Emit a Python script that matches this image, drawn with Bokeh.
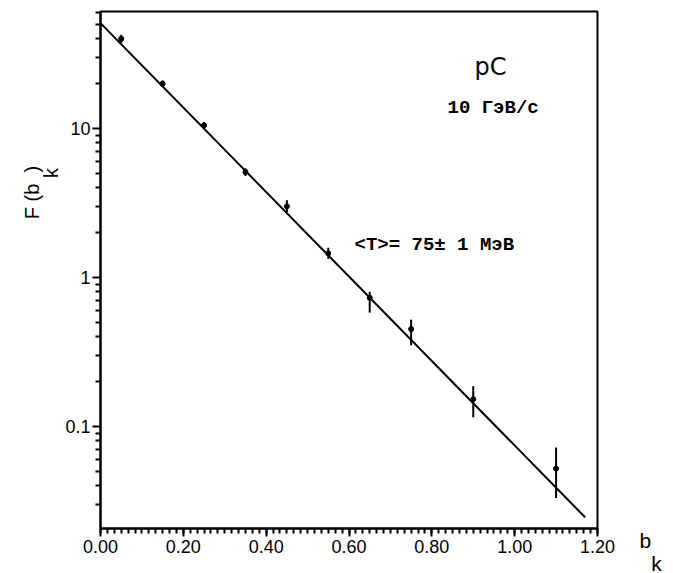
import math
from bokeh.plotting import figure
from bokeh.models import Range1d, FixedTicker, Label, ColumnDataSource
from bokeh.embed import file_html
from bokeh.resources import INLINE

# ---- data ----
b_k = [0.05, 0.15, 0.25, 0.35, 0.45, 0.55, 0.65, 0.75, 0.90, 1.10]
F = [40.0, 20.0, 10.5, 5.1, 3.0, 1.45, 0.73, 0.45, 0.152, 0.052]
F_lo = [37.5, 19.0, 10.0, 4.8, 2.75, 1.33, 0.58, 0.35, 0.115, 0.033]
F_hi = [42.5, 21.0, 11.0, 5.4, 3.3, 1.58, 0.80, 0.52, 0.186, 0.072]

fit_b = [0.0, 1.17]
fit_F = [51.0, 0.0245]

x_ticks = [0.0, 0.2, 0.4, 0.6, 0.8, 1.0, 1.2]
x_tick_labels = ["0.00", "0.20", "0.40", "0.60", "0.80", "1.00", "1.20"]
y_ticks = [0.1, 1.0, 10.0]
y_tick_labels = ["0.1", "1", "10"]

W, H = 673, 573
FL, FR, FT, FB = 100, 597, 11, 528
XMIN, XMAX = 0.0, 1.2
YMIN, YMAX = 0.0206, 61.0
NB = "\u00a0"


def X(px):
    return XMIN + (px - FL) / (FR - FL) * (XMAX - XMIN)


def Y(py):
    lo, hi = math.log10(YMIN), math.log10(YMAX)
    return 10 ** (lo + (FB - py) / (FB - FT) * (hi - lo))


p = figure(width=W, height=H, x_range=Range1d(XMIN, XMAX), y_range=Range1d(YMIN, YMAX),
           y_axis_type="log", output_backend="svg", toolbar_location=None,
           min_border_left=FL, min_border_right=W - FR, min_border_top=FT,
           min_border_bottom=H - FB)
p.background_fill_color = "white"
p.border_fill_color = "white"
p.outline_line_color = "black"
p.outline_line_width = 2
p.xgrid.visible = False
p.ygrid.visible = False

# x axis
x_minor = [i * 0.2 / 12 for i in range(0, 73)]
p.xaxis.ticker = FixedTicker(ticks=x_ticks, minor_ticks=x_minor)
p.xaxis.major_label_overrides = {t: s for t, s in zip(x_ticks, x_tick_labels)}
# y axis
y_minor = [m * 10.0 ** e for e in (-2, -1, 0, 1) for m in range(2, 10)
           if YMIN <= m * 10.0 ** e <= YMAX]
p.yaxis.ticker = FixedTicker(ticks=y_ticks, minor_ticks=y_minor)
p.yaxis.major_label_overrides = {t: s for t, s in zip(y_ticks, y_tick_labels)}

for ax in (p.xaxis[0], p.yaxis[0]):
    ax.axis_line_width = 2
    ax.axis_line_color = "black"
    ax.major_tick_line_width = 2
    ax.minor_tick_line_width = 2
    ax.major_tick_in = 0
    ax.major_tick_out = 8
    ax.minor_tick_in = 0
    ax.minor_tick_out = 5
    ax.major_label_text_font = "Liberation Sans"
    ax.major_label_text_font_size = "18px"
    ax.major_label_text_color = "black"
    ax.major_label_standoff = 3
p.yaxis.major_label_standoff = 2

# fit line
p.line(fit_b, fit_F, line_color="black", line_width=2)

# data with error bars
src = ColumnDataSource(dict(b=b_k, F=F, lo=F_lo, hi=F_hi))
p.segment(x0="b", y0="lo", x1="b", y1="hi", source=src, line_color="black", line_width=2)
p.scatter(x="b", y="F", source=src, size=5, marker="circle", fill_color="black",
          line_color="black")

# annotations inside the frame
def lab(txt, px, py, size, font="Liberation Mono", style="bold", align="left",
        baseline="alphabetic", angle=0.0):
    p.add_layout(Label(x=X(px), y=Y(py), text=txt, text_font=font,
                       text_font_size=size, text_font_style=style, text_color="black",
                       text_align=align, text_baseline=baseline, angle=angle))

lab("pC", 474, 66, "24px", font="DejaVu Sans", style="normal")
lab("10 ГэВ/с", 447, 107, "19px")
lab("<T>= 75± 1 МэВ", 354, 244, "19px")

# axis titles outside the frame: placed in the right side panel(s).
# First right panel's origin is the frame's bottom-right corner (FR, FB), y upward.
p.add_layout(Label(x=639 - FR, y=FB - 528, x_units="screen", y_units="screen",
                   text="b\n" + NB * 2 + "k", text_font="Liberation Sans",
                   text_font_size="21px", text_line_height=1.0, text_color="black",
                   text_align="left", text_baseline="top"), "right")
W1 = 23  # width of the first right-side panel
p.add_layout(Label(x=42 - FR - W1, y=FB - 192, x_units="screen", y_units="screen",
                   text="F" + NB + "(b" + NB * 2 + ")\n" + NB * 7 + "k",
                   text_font="Liberation Sans", text_font_size="20px",
                   text_line_height=0.9, text_color="black",
                   text_align="center", text_baseline="middle", angle=math.pi / 2),
             "right")

open("out.html", "w").write(file_html(p, INLINE))
